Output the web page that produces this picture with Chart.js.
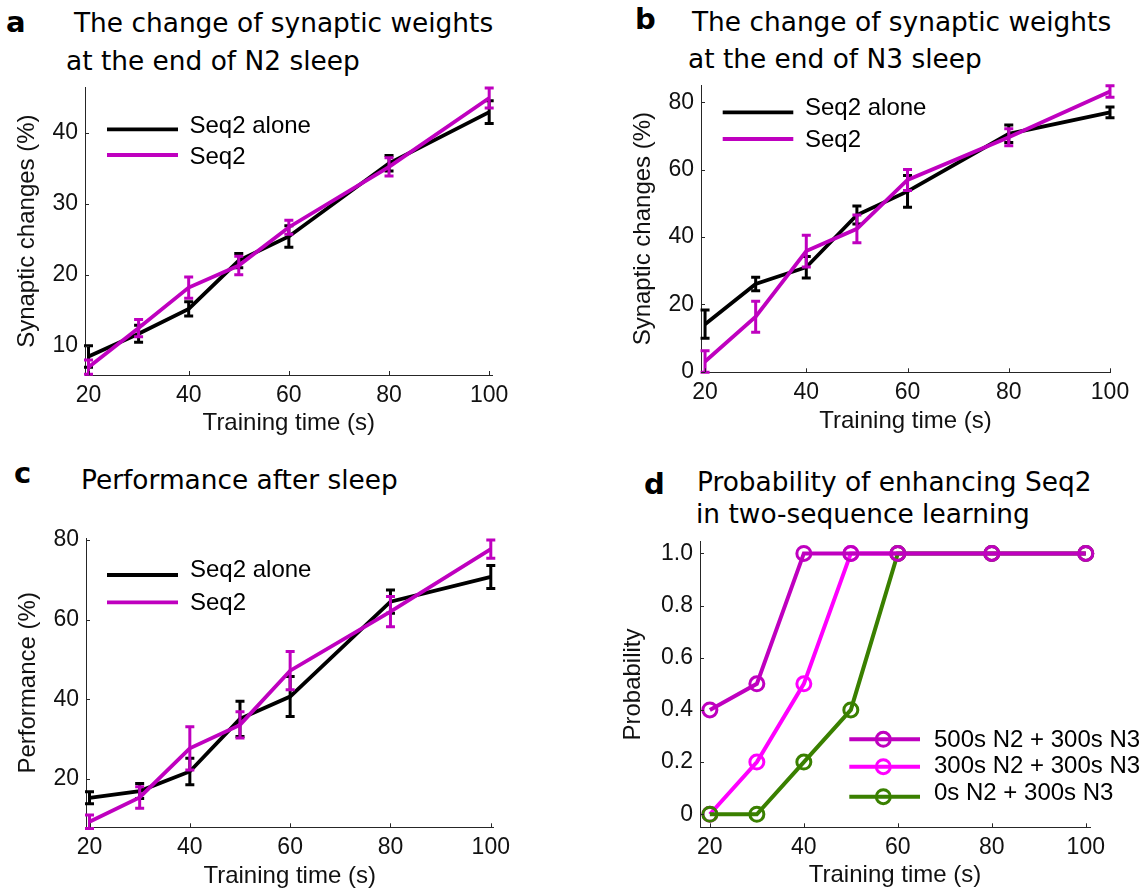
<!DOCTYPE html>
<html>
<head>
<meta charset="utf-8">
<script src="https://cdn.jsdelivr.net/npm/chart.js@4.4.1/dist/chart.umd.min.js"></script>
<style>
  body { margin: 0; background: #fff; width: 1140px; height: 893px; position: relative; overflow: hidden; }
  canvas { position: absolute; }
  .t { position: absolute; font-family: "DejaVu Sans", sans-serif; font-size: 26.4px; line-height: 30px; white-space: nowrap; color: #000; }
  .l { font-weight: bold; font-size: 29px; line-height: 34px; }
</style>
</head>
<body>
<div class="t l" style="left:6px;top:5px">a</div>
<div class="t" style="left:74px;top:8px">The change of synaptic weights</div>
<div class="t" style="left:66px;top:46px">at the end of N2 sleep</div>

<div class="t l" style="left:635px;top:2px">b</div>
<div class="t" style="left:692px;top:7px">The change of synaptic weights</div>
<div class="t" style="left:688px;top:44px">at the end of N3 sleep</div>

<div class="t l" style="left:14px;top:456px">c</div>
<div class="t" style="left:81px;top:465px">Performance after sleep</div>

<div class="t l" style="left:644px;top:467px">d</div>
<div class="t" style="left:697px;top:467px">Probability of enhancing Seq2</div>
<div class="t" style="left:696px;top:499px">in two-sequence learning</div>

<canvas id="ca"></canvas>
<canvas id="cb"></canvas>
<canvas id="cc"></canvas>
<canvas id="cd"></canvas>

<script>
// data
const trainingTime = [20, 30, 40, 50, 60, 80, 100];
const xTicks = [20, 40, 60, 80, 100];

// a: synaptic changes, end of N2 sleep
const n2Alone = [8.5, 11.7, 15.2, 22.0, 25.4, 35.7, 42.9];
const n2AloneErr = [1.5, 1.2, 1.0, 1.0, 1.5, 1.1, 1.6];
const n2Seq2 = [7.0, 12.5, 18.2, 21.3, 26.7, 35.2, 44.9];
const n2Seq2Err = [1.0, 1.2, 1.5, 1.3, 1.0, 1.3, 1.4];
const aYTicks = [10, 20, 30, 40];

// b: synaptic changes, end of N3 sleep
const n3Alone = [14.1, 26.0, 31.0, 46.5, 53.5, 70.6, 77.0];
const n3AloneErr = [4.2, 2.0, 3.2, 2.7, 4.7, 2.6, 1.6];
const n3Seq2 = [3.0, 16.3, 35.8, 42.4, 56.9, 69.6, 83.2];
const n3Seq2Err = [3.2, 4.6, 4.7, 4.1, 3.1, 2.5, 1.7];
const bYTicks = [0, 20, 40, 60, 80];

// c: performance after sleep
const perfAlone = [15.3, 17.0, 21.9, 35.1, 40.7, 64.5, 70.7];
const perfAloneErr = [1.5, 1.9, 3.3, 4.4, 5.0, 2.9, 2.9];
const perfSeq2 = [9.3, 15.4, 27.7, 33.6, 47.2, 62.0, 77.7];
const perfSeq2Err = [1.7, 2.7, 5.4, 3.3, 4.8, 3.8, 2.3];
const cYTicks = [20, 40, 60, 80];

// d: probability of enhancing Seq2
const prob500 = [0.4, 0.5, 1.0, 1.0, 1.0, 1.0, 1.0];
const prob300 = [0.0, 0.2, 0.5, 1.0, 1.0, 1.0, 1.0];
const prob0 = [0.0, 0.0, 0.2, 0.4, 1.0, 1.0, 1.0];
const dYTicks = [0, 0.2, 0.4, 0.6, 0.8, 1.0];
const dYTickLabels = ['0', '0.2', '0.4', '0.6', '0.8', '1.0'];

const seriesNames = ['Seq2 alone', 'Seq2'];
const probNames = ['500s N2 + 300s N3', '300s N2 + 300s N3', '0s N2 + 300s N3'];

const axisColor = '#262626';
const textColor = '#111';
const magenta = '#bf00bf';
const pink = '#ff00ff';
const green = '#3a8000';

Chart.defaults.font.family = '"Liberation Sans", Arial, sans-serif';

function pts(ys) {
    return trainingTime.map((x, i) => ({ x: x, y: ys[i] }));
}

// vertical error bars with caps, drawn right after their own line
const errorBars = {
    id: 'errorBars',
    afterDatasetDraw(chart, args) {
        const ds = chart.data.datasets[args.index];
        if (!ds.err) return;
        const ctx = chart.ctx, xs = chart.scales.x, ys = chart.scales.y;
        ctx.save();
        ctx.strokeStyle = ds.borderColor;
        ctx.lineWidth = 3;
        ds.data.forEach((p, i) => {
            const px = xs.getPixelForValue(p.x),
                top = ys.getPixelForValue(p.y + ds.err[i]),
                bot = ys.getPixelForValue(p.y - ds.err[i]);
            ctx.beginPath();
            ctx.moveTo(px, top); ctx.lineTo(px, bot);
            ctx.moveTo(px - 4.5, top); ctx.lineTo(px + 4.5, top);
            ctx.moveTo(px - 4.5, bot); ctx.lineTo(px + 4.5, bot);
            ctx.stroke();
        });
        ctx.restore();
    }
};

// matlab style ticks pointing into the axes
const inTicks = {
    id: 'inTicks',
    afterDraw(chart) {
        const { ctx, chartArea: a } = chart, x = chart.scales.x, y = chart.scales.y;
        ctx.save();
        ctx.strokeStyle = axisColor;
        ctx.lineWidth = 1;
        ctx.beginPath();
        x.ticks.forEach(t => {
            const p = Math.round(x.getPixelForValue(t.value)) + 0.5;
            ctx.moveTo(p, a.bottom); ctx.lineTo(p, a.bottom - 4);
        });
        y.ticks.forEach(t => {
            const p = Math.round(y.getPixelForValue(t.value)) + 0.5;
            ctx.moveTo(a.left, p); ctx.lineTo(a.left + 4, p);
        });
        ctx.stroke();
        ctx.restore();
    }
};

// legend box inside the plot
const boxLegend = {
    id: 'boxLegend',
    afterDraw(chart, args, o) {
        if (!o.rows) return;
        const ctx = chart.ctx;
        ctx.save();
        ctx.font = '24px "Liberation Sans", Arial, sans-serif';
        ctx.textBaseline = 'middle';
        ctx.textAlign = 'left';
        o.rows.forEach(r => {
            const ly = r.ly - o.oy;
            ctx.strokeStyle = r.color;
            ctx.lineWidth = o.lineWidth;
            ctx.beginPath();
            ctx.moveTo(o.x0 - o.ox, ly); ctx.lineTo(o.x1 - o.ox, ly);
            ctx.stroke();
            if (o.marker) {
                ctx.lineWidth = 3;
                ctx.beginPath();
                ctx.arc(o.marker - o.ox, ly, 7, 0, Math.PI * 2);
                ctx.stroke();
            }
            ctx.fillStyle = '#000';
            ctx.fillText(r.text, o.tx - o.ox, r.ty - o.oy);
        });
        ctx.restore();
    }
};

function makePanel(id, c) {
    const box = c.box, area = c.area,
        yLeft = c.yTitleMid - 18.4,
        xBottom = c.xTitleMid + 18.4,
        canvas = document.getElementById(id);
    canvas.width = box.w;
    canvas.height = box.h;
    canvas.style.left = box.x + 'px';
    canvas.style.top = box.y + 'px';

    return new Chart(canvas, {
        type: 'line',
        data: { datasets: c.datasets },
        options: {
            responsive: false,
            animation: false,
            events: [],
            layout: {
                padding: {
                    left: yLeft - box.x,
                    top: area.T - box.y,
                    right: box.x + box.w - area.R,
                    bottom: box.y + box.h - xBottom
                }
            },
            plugins: {
                legend: { display: false },
                tooltip: { enabled: false },
                boxLegend: Object.assign({ ox: box.x, oy: box.y }, c.legend)
            },
            scales: {
                x: {
                    type: 'linear',
                    min: c.xMin, max: c.xMax,
                    afterBuildTicks: s => { s.ticks = xTicks.map(v => ({ value: v })); },
                    afterFit: s => { s.height = xBottom - area.B; },
                    grid: { display: false, drawTicks: false },
                    border: { color: axisColor, width: 1 },
                    ticks: { padding: 6.5, color: textColor, font: { size: 23 }, maxRotation: 0, callback: v => String(v) },
                    title: { display: true, text: 'Training time (s)', color: textColor, font: { size: 24 }, padding: { top: 4, bottom: 4 } }
                },
                y: {
                    min: c.yMin, max: c.yMax,
                    afterBuildTicks: s => { s.ticks = c.yTicks.map(v => ({ value: v })); },
                    afterFit: s => { s.width = area.L - yLeft; },
                    grid: { display: false, drawTicks: false },
                    border: { color: axisColor, width: 1 },
                    ticks: { padding: 7, color: textColor, font: { size: 23 }, callback: (v, i) => c.yLabels ? c.yLabels[i] : String(v) },
                    title: { display: true, text: c.yTitle, color: textColor, font: { size: 24 }, padding: { top: 4, bottom: 4 } }
                }
            }
        },
        plugins: [errorBars, inTicks, boxLegend]
    });
}

function pairSets(alone, aloneErr, seq2, seq2Err) {
    return [
        { label: seriesNames[0], data: pts(alone), err: aloneErr, borderColor: '#000', borderWidth: 3.8, pointRadius: 0, order: 1, clip: false },
        { label: seriesNames[1], data: pts(seq2), err: seq2Err, borderColor: magenta, borderWidth: 3.8, pointRadius: 0, order: 0, clip: false }
    ];
}

function pairLegend(x0, x1, tx, ly, ty) {
    return {
        x0: x0, x1: x1, tx: tx, lineWidth: 3.8,
        rows: [
            { text: seriesNames[0], color: '#000', ly: ly[0], ty: ty[0] },
            { text: seriesNames[1], color: magenta, ly: ly[1], ty: ty[1] }
        ]
    };
}

makePanel('ca', {
    box: { x: 0, y: 60, w: 560, h: 390 },
    area: { L: 85, T: 87.3, R: 492.7, B: 375 },
    yTitleMid: 27, xTitleMid: 423.7,
    xMin: 19.3, xMax: 100.7, yMin: 5.9, yMax: 46.4,
    yTicks: aYTicks, yTitle: 'Synaptic changes (%)',
    datasets: pairSets(n2Alone, n2AloneErr, n2Seq2, n2Seq2Err),
    legend: pairLegend(107, 178, 189.5, [129.3, 155], [126, 157])
});

makePanel('cb', {
    box: { x: 600, y: 60, w: 540, h: 390 },
    area: { L: 701, T: 85, R: 1110, B: 372.3 },
    yTitleMid: 643.5, xTitleMid: 421.7,
    xMin: 19.2, xMax: 100, yMin: -0.2, yMax: 85.1,
    yTicks: bYTicks, yTitle: 'Synaptic changes (%)',
    datasets: pairSets(n3Alone, n3AloneErr, n3Seq2, n3Seq2Err),
    legend: pairLegend(722.7, 793.3, 805, [112.3, 139], [108, 140.3])
});

makePanel('cc', {
    box: { x: 0, y: 505, w: 560, h: 395 },
    area: { L: 86, T: 538.3, R: 493.3, B: 827.3 },
    yTitleMid: 28.5, xTitleMid: 876.7,
    xMin: 19.3, xMax: 100.5, yMin: 7.9, yMax: 80.4,
    yTicks: cYTicks, yTitle: 'Performance (%)',
    datasets: pairSets(perfAlone, perfAloneErr, perfSeq2, perfSeq2Err),
    legend: pairLegend(107, 178, 190, [575, 602.3], [570.3, 603.7])
});

function probSet(i, ys, color, order) {
    return {
        label: probNames[i], data: pts(ys), borderColor: color, borderWidth: 4,
        pointRadius: 7, pointBorderWidth: 3, pointBorderColor: color,
        pointBackgroundColor: 'rgba(0,0,0,0)', order: order, clip: false
    };
}

makePanel('cd', {
    box: { x: 600, y: 505, w: 540, h: 395 },
    area: { L: 700, T: 541.7, R: 1090, B: 827.3 },
    yTitleMid: 633.5, xTitleMid: 875,
    xMin: 17.9, xMax: 100.9, yMin: -0.05, yMax: 1.045,
    yTicks: dYTicks, yLabels: dYTickLabels, yTitle: 'Probability',
    datasets: [
        probSet(0, prob500, magenta, 0),
        probSet(1, prob300, pink, 2),
        probSet(2, prob0, green, 1)
    ],
    legend: {
        x0: 849.3, x1: 920, tx: 934, marker: 883.3, lineWidth: 4,
        rows: [
            { text: probNames[0], color: magenta, ly: 739.3, ty: 740.3 },
            { text: probNames[1], color: pink, ly: 766.7, ty: 766 },
            { text: probNames[2], color: green, ly: 796.7, ty: 793.7 }
        ]
    }
});
</script>
</body>
</html>
